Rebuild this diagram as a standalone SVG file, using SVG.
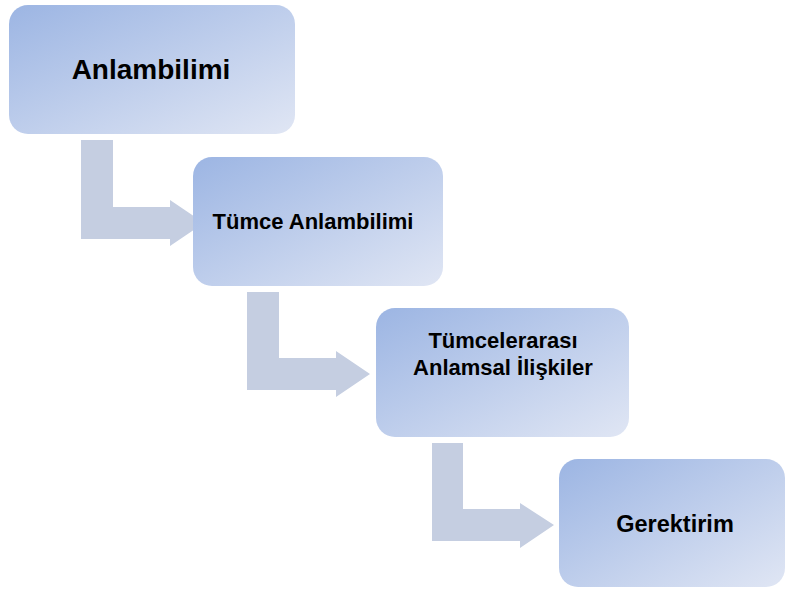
<svg xmlns="http://www.w3.org/2000/svg" width="786" height="589" viewBox="0 0 786 589">
<defs>
<linearGradient id="g" x1="0" y1="0" x2="1" y2="1">
<stop offset="0" stop-color="#9cb5e3"/>
<stop offset="1" stop-color="#e0e6f4"/>
</linearGradient>
<style>
.box{fill:url(#g);}
.arr{fill:#c5cee1;}
text{font-family:"Liberation Sans",Arial,sans-serif;font-weight:bold;fill:#000;text-anchor:middle;}
.big{font-size:28px;}
.sm{font-size:22px;}
.g4{font-size:23.5px;}
</style>
</defs>
<g id="connectors">
<path class="arr" d="M81,140 H113 V207 H170 V200 L204,223 L170,246 V239 H81 Z"/>
<path class="arr" d="M247,292 H279 V358 H336 V351 L370,374 L336,397 V390 H247 Z"/>
<path class="arr" d="M432,443 H463 V509 H520 V503 L554,525 L520,548 V541 H432 Z"/>
</g>
<g id="n1">
<rect class="box" x="9" y="5" width="286" height="129" rx="19"/>
<text class="big" x="151" y="79">Anlambilimi</text>
</g>
<g id="n2">
<rect class="box" x="193" y="157" width="250" height="129" rx="19"/>
<text class="sm" x="313" y="229">Tümce Anlambilimi</text>
</g>
<g id="n3">
<rect class="box" x="376" y="308" width="253" height="129" rx="19"/>
<text class="sm" x="503" y="348">Tümcelerarası</text>
<text class="sm" x="503" y="375">Anlamsal İlişkiler</text>
</g>
<g id="n4">
<rect class="box" x="559" y="459" width="226" height="128" rx="19"/>
<text class="g4" x="675" y="532">Gerektirim</text>
</g>
</svg>
